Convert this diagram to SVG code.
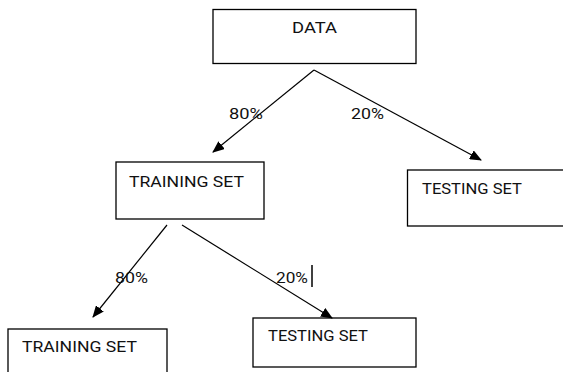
<svg xmlns="http://www.w3.org/2000/svg" width="563" height="372" viewBox="0 0 563 372">
<style>
.box{fill:#fff;stroke:#000;stroke-width:1.3}
.t{font-family:Roboto,"Open Sans",sans-serif;font-size:15px;fill:#111}
.c{stroke:#000;stroke-width:1.2;fill:none}
</style>
<defs>
<marker id="ah" markerWidth="12" markerHeight="10" refX="11" refY="5" orient="auto" markerUnits="userSpaceOnUse">
<path d="M0,0 L12,5 L0,10 Z" fill="#000"/>
</marker>
</defs>
<rect width="563" height="372" fill="#fff"/>
<g id="data"><rect class="box" x="213" y="9.5" width="203" height="54"/><text class="t" x="292" y="33" textLength="45" lengthAdjust="spacingAndGlyphs">DATA</text></g>
<g id="train1"><rect class="box" x="116" y="162" width="148" height="57"/><text class="t" x="129" y="187" textLength="115" lengthAdjust="spacingAndGlyphs">TRAINING SET</text></g>
<g id="test1"><rect class="box" x="407.5" y="170" width="170" height="56"/><text class="t" x="422" y="194" textLength="100" lengthAdjust="spacingAndGlyphs">TESTING SET</text></g>
<g id="train2"><rect class="box" x="8" y="329" width="159" height="60"/><text class="t" x="22" y="352" textLength="115" lengthAdjust="spacingAndGlyphs">TRAINING SET</text></g>
<g id="test2"><rect class="box" x="253" y="318" width="163" height="49"/><text class="t" x="268" y="341" textLength="100" lengthAdjust="spacingAndGlyphs">TESTING SET</text></g>
<g id="connectors">
<line class="c" x1="314" y1="70" x2="213" y2="152" marker-end="url(#ah)"/>
<line class="c" x1="314" y1="70" x2="481" y2="160" marker-end="url(#ah)"/>
<line class="c" x1="167" y1="225" x2="93" y2="317" marker-end="url(#ah)"/>
<line class="c" x1="182" y1="225" x2="332" y2="318" marker-end="url(#ah)"/>
<text class="t" x="229" y="119" textLength="34" lengthAdjust="spacingAndGlyphs">80%</text>
<text class="t" x="351" y="119" textLength="33" lengthAdjust="spacingAndGlyphs">20%</text>
<text class="t" x="115" y="283" textLength="33" lengthAdjust="spacingAndGlyphs">80%</text>
<text class="t" x="276" y="283" textLength="32" lengthAdjust="spacingAndGlyphs">20%</text>
<line x1="312" y1="265" x2="312" y2="287" stroke="#000" stroke-width="1.5"/>
</g>
</svg>
